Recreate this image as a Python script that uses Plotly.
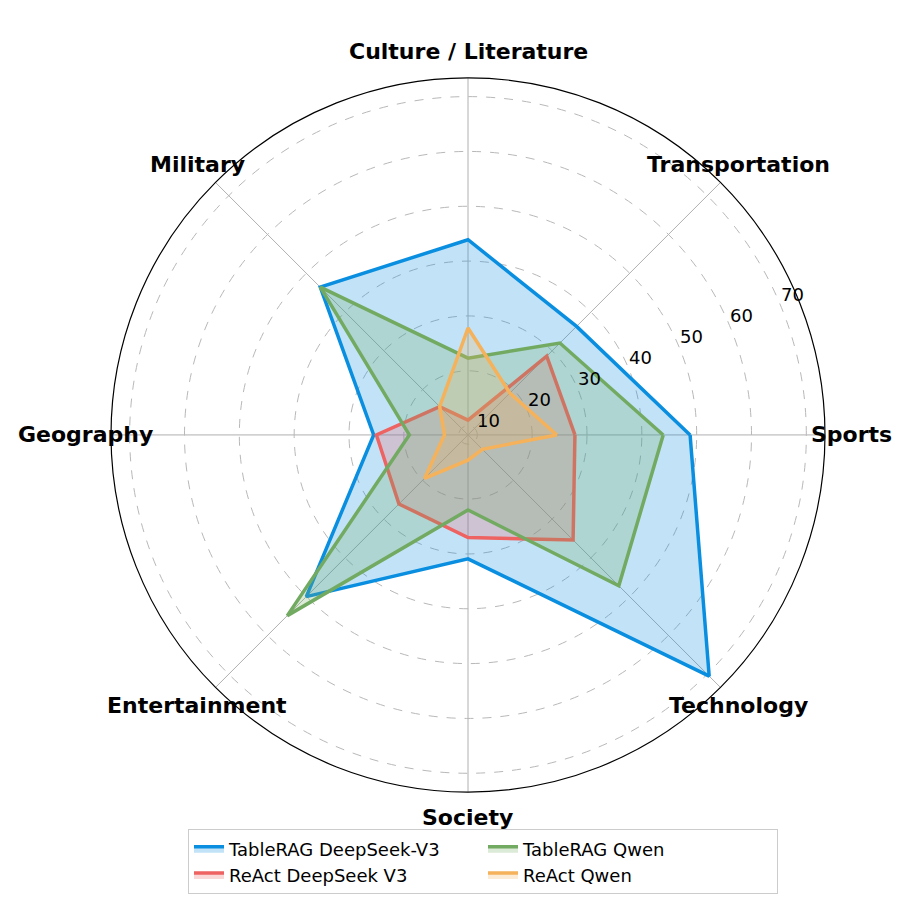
import math
import plotly.graph_objects as go

# categories, counter-clockwise from the right
categories = ["Sports", "Transportation", "Culture / Literature", "Military",
              "Geography", "Entertainment", "Society", "Technology"]

tablerag_deepseek = [48.8, 36.3, 43.9, 46.4, 25.5, 50.0, 30.9, 70.5]
react_deepseek = [27.8, 28.6, 11.0, 15.6, 25.0, 26.1, 27.0, 35.4]
tablerag_qwen = [43.9, 32.0, 22.3, 46.4, 19.0, 54.9, 22.0, 47.2]
react_qwen = [24.5, 19.1, 27.8, 15.6, 12.6, 19.5, 12.9, 12.0]

radial_ticks = [10, 20, 30, 40, 50, 60, 70]
r_min, r_max = 8.3, 73.4

W, H = 920, 924
ml, mr = 40, 40          # side margins keep the legend to two columns
plot_w = W - ml - mr
ring_px = 357            # outer ring radius in px
dom_x = [0.5 - ring_px / plot_w, 0.5 + ring_px / plot_w]
dom_y = [0.1516, 0.9243]

series = [
    # name, values, line colour, fill colour, legend rank
    ("TableRAG DeepSeek-V3", tablerag_deepseek, "#0A8FE0", "rgba(10,143,224,0.25)", 1),
    ("ReAct DeepSeek V3", react_deepseek, "#EE6262", "rgba(238,98,98,0.25)", 3),
    ("TableRAG Qwen", tablerag_qwen, "#72AA62", "rgba(114,170,98,0.25)", 2),
    ("ReAct Qwen", react_qwen, "#F5B25A", "rgba(245,178,90,0.25)", 4),
]

fig = go.Figure()
for name, vals, line_col, fill_col, rank in series:
    fig.add_trace(go.Scatterpolar(
        r=vals + vals[:1],
        theta=categories + categories[:1],
        mode="lines",
        line=dict(color=line_col, width=3.5),
        fill="toself",
        fillcolor=fill_col,
        name=name,
        legendrank=rank,
    ))

cx = (dom_x[0] + dom_x[1]) / 2
cy = (dom_y[0] + dom_y[1]) / 2
annotations = []

# category names centred just outside the ring (like matplotlib xticklabels)
label_px = 383
for i, cat in enumerate(categories):
    ang = math.radians(i * 360 / len(categories))
    annotations.append(dict(
        x=cx + label_px * math.cos(ang) / plot_w,
        y=cy + label_px * math.sin(ang) / H,
        xref="paper", yref="paper",
        text="<b>%s</b>" % cat,
        showarrow=False,
        xanchor="center", yanchor="middle",
        font=dict(size=22, family="DejaVu Sans", color="black"),
    ))

# radial tick labels along 22.5 deg, nudged like matplotlib's rlabels
rl_ang = math.radians(22.5)
for v in radial_ticks:
    rp = (v - r_min) / (r_max - r_min) * ring_px
    annotations.append(dict(
        x=cx + rp * math.cos(rl_ang) / plot_w,
        y=cy + rp * math.sin(rl_ang) / H,
        xref="paper", yref="paper",
        text=str(v),
        showarrow=False,
        xanchor="center", yanchor="middle",
        xshift=12, yshift=10.5,
        font=dict(size=18, family="DejaVu Sans", color="black"),
    ))

fig.update_layout(
    width=W,
    height=H,
    margin=dict(l=ml, r=mr, t=0, b=0),
    paper_bgcolor="white",
    font=dict(family="DejaVu Sans", color="black"),
    annotations=annotations,
    polar=dict(
        domain=dict(x=dom_x, y=dom_y),
        bgcolor="white",
        angularaxis=dict(
            rotation=0,
            direction="counterclockwise",
            showline=True,
            linecolor="black",
            linewidth=1.2,
            gridcolor="#b0b0b0",
            gridwidth=1,
            ticks="",
            showticklabels=False,
        ),
        radialaxis=dict(
            range=[r_min, r_max],
            tickvals=radial_ticks,
            angle=22.5,
            showline=False,
            showticklabels=False,
            ticks="",
            gridcolor="#b8b8b8",
            gridwidth=1,
            griddash="dash",
        ),
    ),
    legend=dict(
        orientation="h",
        x=(475 - ml) / plot_w,
        y=0.111,
        xanchor="center",
        yanchor="top",
        entrywidth=249,
        bordercolor="#cccccc",
        borderwidth=1,
        font=dict(size=18),
        traceorder="normal",
    ),
)

fig.write_html("out.html")
